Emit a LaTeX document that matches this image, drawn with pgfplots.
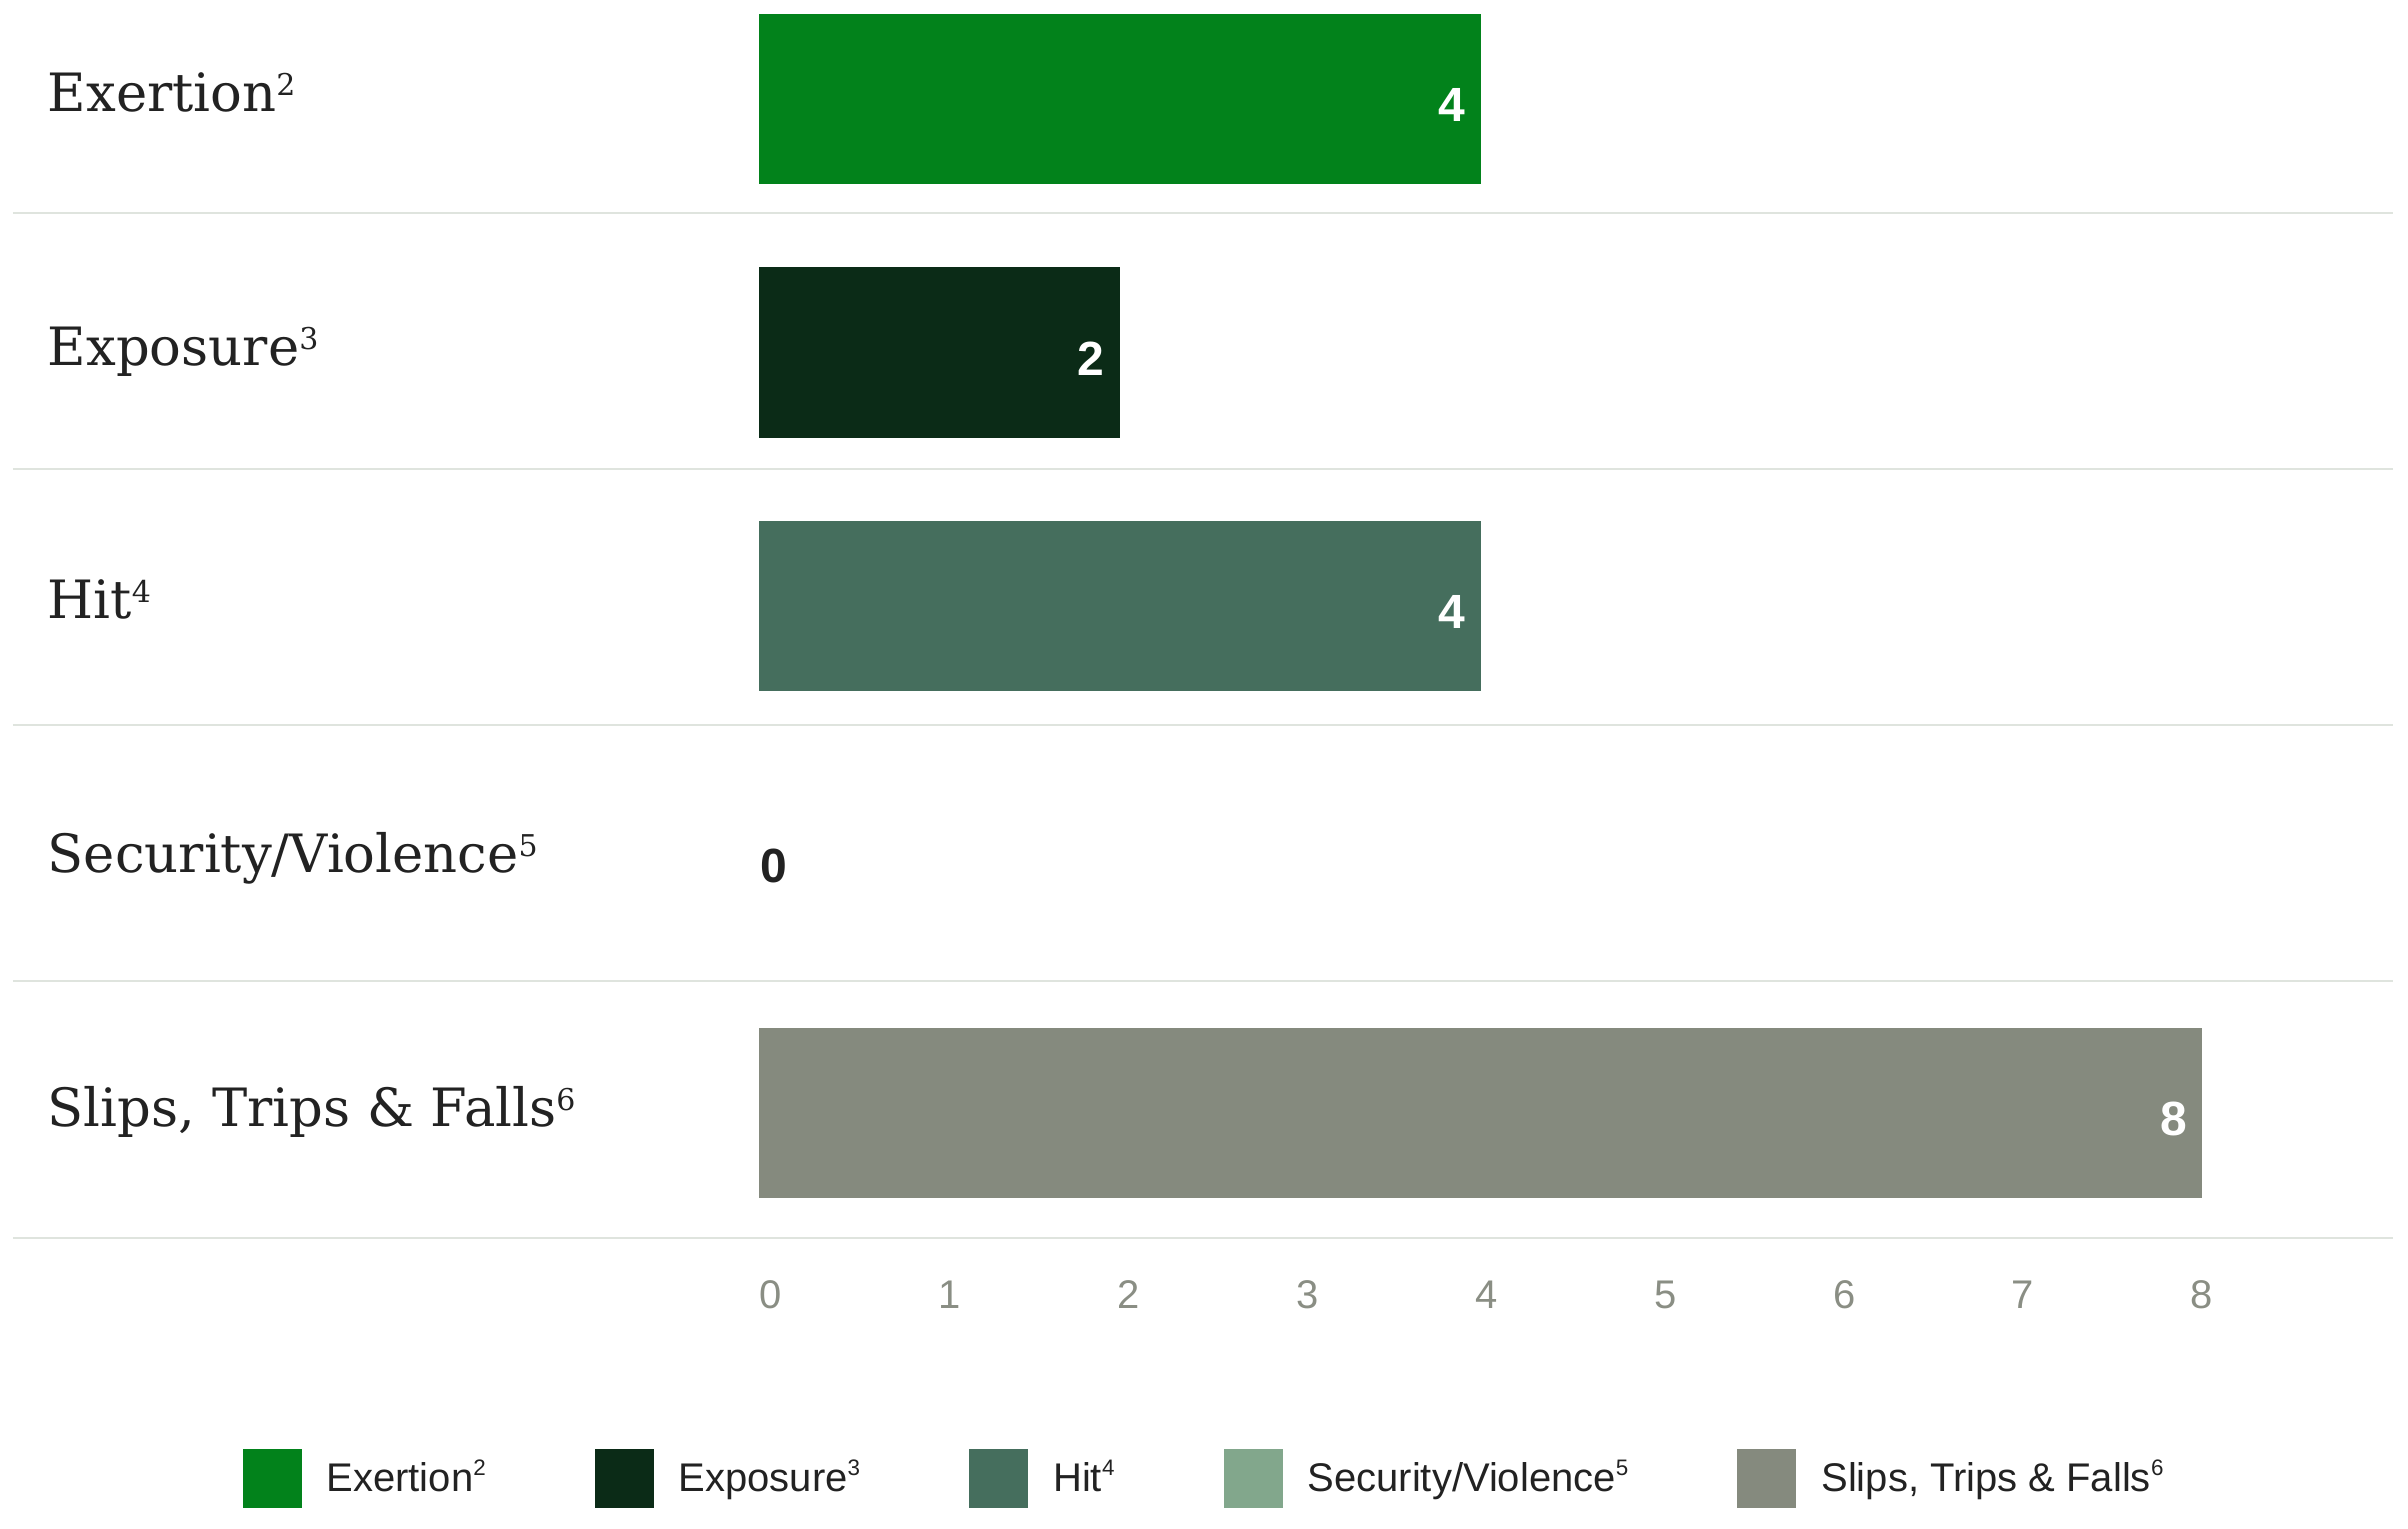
\documentclass[border=0pt]{standalone}
\usepackage{pgfplots}
\pgfplotsset{compat=1.18}
\usepackage{fontspec}
\setmainfont{Liberation Sans}
\newfontfamily\catfont{DejaVu Serif}
\definecolor{cExertion}{HTML}{02821B}
\definecolor{cExposure}{HTML}{0B2B17}
\definecolor{cHit}{HTML}{456E5D}
\definecolor{cSecurity}{HTML}{82A78C}
\definecolor{cSlips}{HTML}{858A7E}
\definecolor{sepc}{HTML}{DFE4DE}
\definecolor{tickc}{HTML}{8A8E84}
\definecolor{txt}{HTML}{222222}
\newcommand\csup[1]{\raisebox{4pt}{\fontsize{7.5}{8}\selectfont #1}}
\newcommand\lsup[1]{\raisebox{4pt}{\fontsize{5.6}{6}\selectfont #1}}
\pgfplotsset{
  mybar/.style={xbar, bar shift=0pt, bar width=0.671, draw=none, point meta=x,
    legend image code/.code={\fill[##1,draw=none] (0pt,-7.375pt) rectangle (14.75pt,7.375pt);}},
  whitelab/.style={nodes near coords={\makebox[0pt][r]{\pgfmathprintnumber{\pgfplotspointmeta}}},
    every node near coord/.append style={anchor=west, text=white, font=\bfseries\fontsize{12}{14}\selectfont, inner sep=0pt, xshift=-4.5pt, yshift=-1.6pt}},
}
\begin{document}
\begin{tikzpicture}
\begin{axis}[
  scale only axis, width=595pt, height=309.5pt,
  xmin=-4.136, xmax=9.059, ymin=-0.493, ymax=4.3905,
  axis line style={draw=none}, major tick length=0pt,
  clip=false,
  /pgf/number format/assume math mode=true,
  xtick={0.067,1.059,2.050,3.042,4.033,5.025,6.017,7.008,8},
  xticklabels={0,1,2,3,4,5,6,7,8},
  xticklabel style={font=\fontsize{10}{12}\selectfont, text=tickc, anchor=center, yshift=-14.25pt, inner sep=0pt},
  ytick={0,1,2,3,4},
  yticklabels={{Slips, Trips \& Falls\csup{6}},{Security/Violence\csup{5}},{Hit\csup{4}},{Exposure\csup{3}},{Exertion\csup{2}}},
  yticklabel style={font=\catfont\fontsize{13.2}{15}\selectfont, text=txt, anchor=base west, inner sep=0pt, xshift=8.5pt, yshift=-3.25pt},
  legend columns=5,
  legend style={draw=none, fill=none, at={(0.5,-0.1943)}, anchor=center,
    font=\fontsize{10}{12}\selectfont, text=txt, inner sep=0pt, nodes={inner sep=0pt},
    /tikz/every odd column/.append style={column sep=6.25pt},
    /tikz/every even column/.append style={column sep=27.25pt}},
  legend cell align=left,
]
\draw[sepc, line width=0.45pt] (axis cs:-4.136,3.550) -- (axis cs:9.059,3.550);
\draw[sepc, line width=0.45pt] (axis cs:-4.136,2.540) -- (axis cs:9.059,2.540);
\draw[sepc, line width=0.45pt] (axis cs:-4.136,1.531) -- (axis cs:9.059,1.531);
\draw[sepc, line width=0.45pt] (axis cs:-4.136,0.521) -- (axis cs:9.059,0.521);
\draw[sepc, line width=0.45pt] (axis cs:-4.136,-0.493) -- (axis cs:9.059,-0.493);

\addplot[mybar, fill=cExertion, whitelab] coordinates {(4,4)};
\addlegendentry{Exertion\lsup{2}}
\addplot[mybar, fill=cExposure, whitelab] coordinates {(2,3)};
\addlegendentry{Exposure\lsup{3}}
\addplot[mybar, fill=cHit, whitelab] coordinates {(4,2)};
\addlegendentry{Hit\lsup{4}}
\addplot[mybar, fill=none,
  legend image code/.code={\fill[cSecurity] (0pt,-7.375pt) rectangle (14.75pt,7.375pt);},
  nodes near coords={\pgfmathprintnumber{\pgfplotspointmeta}},
  every node near coord/.append style={anchor=west, text=txt, font=\bfseries\fontsize{12}{14}\selectfont, inner sep=0pt, xshift=0.25pt, yshift=-1.5pt}] coordinates {(0,1)};
\addlegendentry{Security/Violence\lsup{5}}
\addplot[mybar, fill=cSlips, whitelab] coordinates {(8,0)};
\addlegendentry{Slips, Trips \& Falls\lsup{6}}

\coordinate (bbA) at (axis cs:-4.208,-1.637);
\coordinate (bbB) at (axis cs:9.142,4.3905);
\end{axis}
\pgfresetboundingbox
\path[use as bounding box] (bbA) rectangle (bbB);
\end{tikzpicture}
\end{document}
